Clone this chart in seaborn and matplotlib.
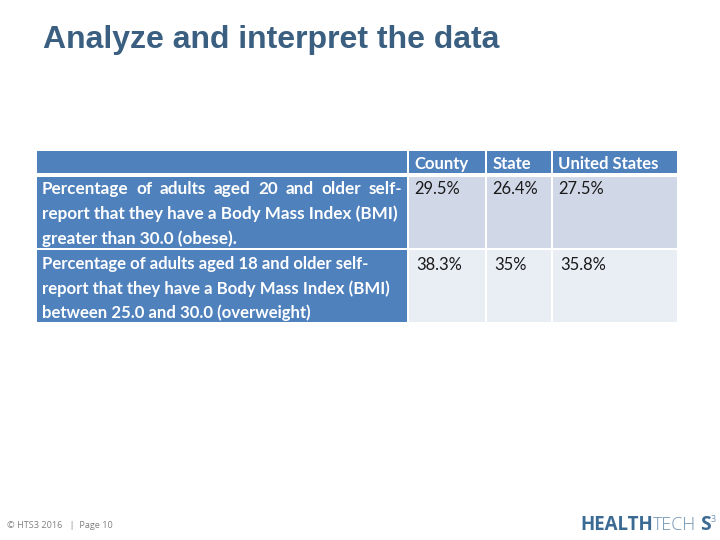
import numpy as np
import pandas as pd
import seaborn as sns
import matplotlib
matplotlib.use("Agg")
import matplotlib.pyplot as plt
from matplotlib.colors import ListedColormap

# ---- data ----
title = "Analyze and interpret the data"
regions = ["County", "State", "United States"]
county = [29.5, 38.3]
state = [26.4, 35.0]
united_states = [27.5, 35.8]
row_lines = [
    ["Percentage of adults aged 20 and older self-",
     "report that they have a Body Mass Index (BMI)",
     "greater than 30.0 (obese)."],
    ["Percentage of adults aged 18 and older self-",
     "report that they have a Body Mass Index (BMI)",
     "between 25.0 and 30.0 (overweight)"],
]
footer = "© HTS3 2016   |  Page 10"

# ---- style / layout (pixels in a 720x540 canvas) ----
W, H, DPI = 720, 540, 100
HEADER, BAND1, BAND2 = "#4F81BD", "#D0D8E8", "#E9EDF4"
x_edges = [36.7, 406.7, 408.7, 485, 487, 551, 553, 676.7]
y_edges = [151, 172.7, 177, 247.7, 250, 322.3]
FONT = "Lato"
TXT_SIZES = [12.35, 12.05]
HEAD = 11.95

sns.set_theme(style="white", rc={"font.family": FONT})
fig = plt.figure(figsize=(W / DPI, H / DPI), dpi=DPI, facecolor="white")
ax = fig.add_axes([x_edges[0] / W, 1 - y_edges[-1] / H,
                   (x_edges[-1] - x_edges[0]) / W, (y_edges[-1] - y_edges[0]) / H])

n = np.nan
codes = pd.DataFrame([
    [0, n, 0, n, 0, n, 0],
    [n, n, n, n, n, n, n],
    [0, n, 1, n, 1, n, 1],
    [n, n, n, n, n, n, n],
    [0, n, 2, n, 2, n, 2],
])
sns.heatmap(codes, ax=ax, cmap=ListedColormap([HEADER, BAND1, BAND2]), vmin=0, vmax=2,
            cbar=False, linewidths=0, xticklabels=False, yticklabels=False)

# Unequal column widths and row heights through piecewise-linear axis scales
xi, yi = np.arange(len(x_edges)), np.arange(len(y_edges))
ax.set_xscale("function", functions=(lambda v: np.interp(v, xi, x_edges),
                                     lambda v: np.interp(v, x_edges, xi)))
ax.set_yscale("function", functions=(lambda v: np.interp(v, yi, y_edges),
                                     lambda v: np.interp(v, y_edges, yi)))
ax.set_xlim(0, 7)
ax.set_ylim(5, 0)
ax.set_xticks([]); ax.set_yticks([])
ax.minorticks_off()
ax.set_xlabel(""); ax.set_ylabel("")
for s in ax.spines.values():
    s.set_visible(False)


def put(x, y, s, **kw):
    kw.setdefault("va", "center")
    return fig.text(x / W, 1 - y / H, s, **kw)


put(43, 40, title, fontsize=23, family="Liberation Sans", fontweight="bold", color="#3A5F80")

# header
for x, lab in zip([414, 492.3, 558], regions):
    put(x, 164, lab, fontsize=HEAD, fontweight="bold", color="white", family=FONT)

# values
vals = [county, state, united_states]
xs = [[414.7, 492.5, 558.3], [416.5, 494.3, 560.3]]
for r, ys in enumerate([189, 264.5]):
    for c in range(3):
        put(xs[r][c], ys, f"{vals[c][r]:g}%", fontsize=11.9, color="#1a1a1a", family=FONT)

# row label text
fig.canvas.draw()
rend = fig.canvas.get_renderer()


def justify(line, y, x0, x1, size):
    words = line.split()
    items = [put(x0, y, w, fontsize=size, fontweight="bold", color="white", family=FONT) for w in words]
    widths = [t.get_window_extent(rend).width for t in items]
    gap = (x1 - x0 - sum(widths)) / (len(words) - 1)
    x = x0
    for t, w in zip(items, widths):
        t.set_x(x / W)
        x += w + gap


line_ys = [[189, 214, 239], [264, 289, 313]]
for r, lines in enumerate(row_lines):
    for i, line in enumerate(lines):
        if r == 0 and i == 0:
            justify(line, line_ys[r][i], 42, 402, TXT_SIZES[r])
        else:
            put(42, line_ys[r][i], line, fontsize=TXT_SIZES[r], fontweight="bold", color="white", family=FONT)

# footer
put(7, 525.5, footer, fontsize=6.6, color="#808080", family="Open Sans")

# logo
LOGO = "#3B6A94"
LOGO_SIZE = 13.5
t1 = put(580, 525, "HEALTH", fontsize=LOGO_SIZE, fontweight="bold", color=LOGO, family="Open Sans")
fig.canvas.draw()
x = 580 + t1.get_window_extent(rend).width
t2 = put(x, 525, "TECH", fontsize=LOGO_SIZE - 0.6, fontweight="light", color="#6E93B3", family="Open Sans")
x += t2.get_window_extent(rend).width + 4
t3 = put(x, 525, "S", fontsize=LOGO_SIZE + 0.3, fontweight="bold", color=LOGO, family="Open Sans")
x += t3.get_window_extent(rend).width
put(x, 520, "3", fontsize=6.5, color="#6E93B3", family="Open Sans")

fig.savefig("out.png", dpi=DPI, facecolor="white")
